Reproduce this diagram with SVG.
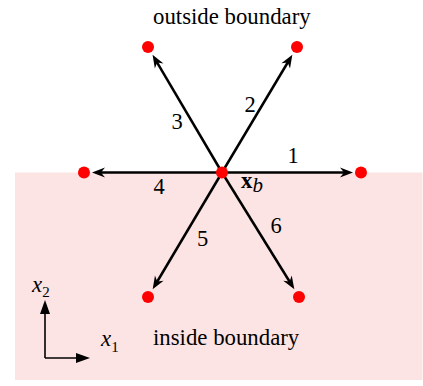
<svg xmlns="http://www.w3.org/2000/svg" width="423" height="386" viewBox="0 0 423 386">
<style>
.t{font-family:"Liberation Serif","Times New Roman","DejaVu Serif",serif;font-size:22.8px;fill:#000}
.n{font-family:"Liberation Serif","Times New Roman","DejaVu Serif",serif;font-size:22.5px;fill:#000;text-anchor:middle}
.ar{stroke:#000;stroke-width:2.5;fill:none;marker-end:url(#h)}
.ax{stroke:#000;stroke-width:1.6;fill:none;marker-end:url(#ah)}
.dot{fill:#ff0000}
</style>
<defs>
<marker id="h" markerUnits="userSpaceOnUse" markerWidth="20" markerHeight="20" viewBox="-10 -10 20 20" refX="0" refY="0" orient="auto" overflow="visible">
<path d="M5,0 L-8,-5 L-4,0 L-8,5 Z" fill="#000"/>
</marker>
<marker id="ah" markerUnits="userSpaceOnUse" markerWidth="20" markerHeight="20" viewBox="-10 -10 20 20" refX="0" refY="0" orient="auto" overflow="visible">
<path d="M4,0 L-10,-5 L-10,5 Z" fill="#000"/>
</marker>
</defs>
<rect x="15" y="172.5" width="407.5" height="207.5" fill="#fde4e4"/>
<text class="t" x="153" y="24">outside boundary</text>
<text class="t" x="153" y="345">inside boundary</text>
<g id="connectors">
<line class="ar" x1="222" y1="172.5" x2="348" y2="172.5"/>
<line class="ar" x1="222" y1="172.5" x2="289.8" y2="59"/>
<line class="ar" x1="222" y1="172.5" x2="155.1" y2="59.1"/>
<line class="ar" x1="222" y1="172.5" x2="97" y2="172.5"/>
<line class="ar" x1="222" y1="172.5" x2="155.2" y2="285"/>
<line class="ar" x1="222" y1="172.5" x2="291.7" y2="285"/>
</g>
<g id="labels">
<text class="n" x="293" y="163">1</text>
<text class="n" x="250" y="111.5">2</text>
<text class="n" x="177" y="128.5">3</text>
<text class="n" x="159" y="194">4</text>
<text class="n" x="202.5" y="246">5</text>
<text class="n" x="276" y="233">6</text>
</g>
<g id="center">
<circle class="dot" cx="222" cy="172.5" r="6"/>
<text class="t" x="241" y="188" font-weight="bold">x<tspan font-weight="normal" font-style="italic" font-size="21" dy="4">b</tspan></text>
</g>
<g id="n1"><circle class="dot" cx="361" cy="172.5" r="6"/></g>
<g id="n2"><circle class="dot" cx="297" cy="47" r="6"/></g>
<g id="n3"><circle class="dot" cx="148" cy="47" r="6"/></g>
<g id="n4"><circle class="dot" cx="84" cy="172.5" r="6"/></g>
<g id="n5"><circle class="dot" cx="148" cy="297" r="6"/></g>
<g id="n6"><circle class="dot" cx="299" cy="297" r="6"/></g>
<g id="axes">
<line class="ax" x1="45" y1="358" x2="45" y2="304"/>
<line class="ax" x1="45" y1="358" x2="86" y2="358"/>
<text class="t" x="32" y="292" font-style="italic">x<tspan font-style="normal" font-size="15" dy="5">2</tspan></text>
<text class="t" x="101" y="346" font-style="italic">x<tspan font-style="normal" font-size="15" dy="6">1</tspan></text>
</g>
</svg>
